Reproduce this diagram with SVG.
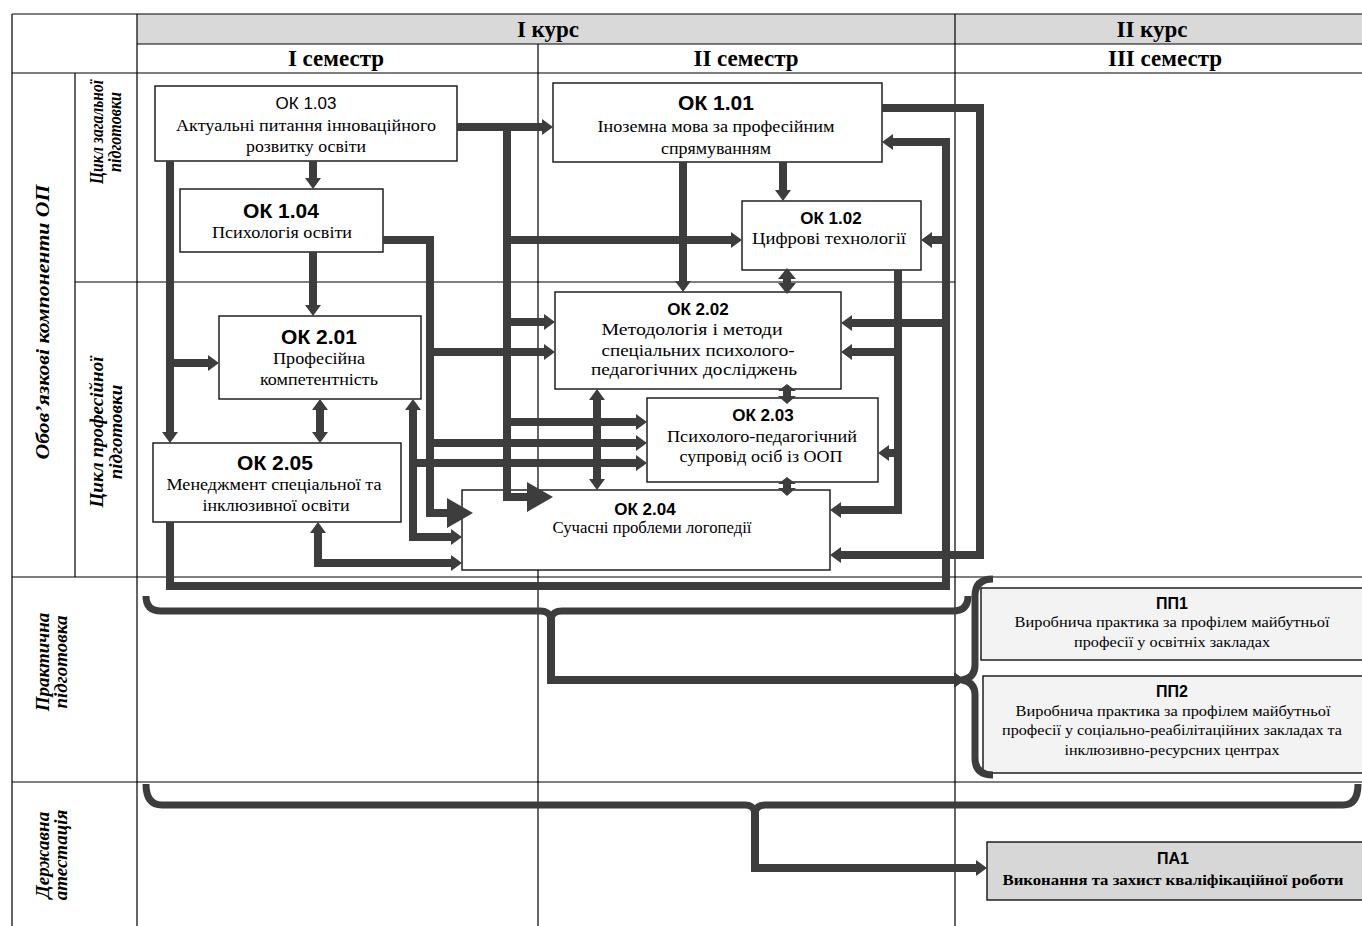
<svg xmlns="http://www.w3.org/2000/svg" width="1362" height="926" viewBox="0 0 1362 926">
<style>
.ln{stroke:#000;stroke-width:1.2;fill:none}
.box{fill:#fff;stroke:#111;stroke-width:1.4}
.pp{fill:#f3f3f3;stroke:#111;stroke-width:1.4}
.pa{fill:#d7d7d7;stroke:#111;stroke-width:1.4}
.c{fill:none;stroke:#3d3d3d;stroke-width:8;stroke-linejoin:miter}
.br{fill:none;stroke:#3d3d3d;stroke-width:7;stroke-linejoin:round}
.tip{fill:#3d3d3d}
.h{font-family:"Liberation Serif","Times New Roman",serif;font-weight:bold;font-size:23px;text-anchor:middle;fill:#000}
.lab{font-family:"Liberation Serif","Times New Roman",serif;font-weight:bold;font-style:italic;font-size:19px;text-anchor:middle;fill:#000}
.k{font-family:"Liberation Sans",Arial,sans-serif;font-size:17px;text-anchor:middle;fill:#000}
.kb{font-family:"Liberation Sans",Arial,sans-serif;font-size:21px;font-weight:bold;text-anchor:middle;fill:#000}
.s{font-family:"Liberation Serif","Times New Roman",serif;font-size:16px;text-anchor:middle;fill:#000}
.ss{font-family:"Liberation Serif","Times New Roman",serif;font-size:14px;text-anchor:middle;fill:#000}
.pt{font-family:"Liberation Sans",Arial,sans-serif;font-size:16px;font-weight:bold;text-anchor:middle;fill:#000}
</style>
<defs>
<marker id="ah" viewBox="0 0 11 16" refX="0" refY="8" markerWidth="11" markerHeight="16" markerUnits="userSpaceOnUse" orient="auto-start-reverse"><path d="M0,0 L11,8 L0,16 z" fill="#3d3d3d"/></marker>
<marker id="AH" viewBox="0 0 26 30" refX="0" refY="15" markerWidth="26" markerHeight="30" markerUnits="userSpaceOnUse" orient="auto"><path d="M0,0 L26,15 L0,30 z" fill="#3d3d3d"/></marker>
</defs>
<rect x="0" y="0" width="1362" height="926" fill="#fff"/>
<g id="grid">
<rect x="137" y="14" width="1225" height="30" fill="#d9d9d9"/>
<path class="ln" d="M12,14 H1362 M137,44 H1362 M12,73 H1362 M75,282 H955 M12,577 H1362 M12,782 H1362"/>
<path class="ln" d="M12,14 V926 M137,14 V926 M75,73 V577 M538,44 V926 M955,14 V926"/>
<text class="h" x="548" y="37">І курс</text>
<text class="h" x="1152" y="37">ІІ курс</text>
<text class="h" x="336" y="66">І семестр</text>
<text class="h" x="746" y="66">ІІ семестр</text>
<text class="h" x="1165" y="66">ІІІ семестр</text>
</g>
<g id="row-labels">
<text class="lab" transform="translate(49,322) rotate(-90)" textLength="275" lengthAdjust="spacingAndGlyphs">Обов’язкові компоненти ОП</text>
<text class="lab" font-size="17" transform="translate(0,132) rotate(-90)"><tspan x="0" y="103" textLength="104" lengthAdjust="spacingAndGlyphs">Цикл загальної</tspan><tspan x="0" y="121" textLength="80" lengthAdjust="spacingAndGlyphs">підготовки</tspan></text>
<text class="lab" transform="translate(0,432) rotate(-90)"><tspan x="0" y="103">Цикл професійної</tspan><tspan x="0" y="122">підготовки</tspan></text>
<text class="lab" transform="translate(0,662) rotate(-90)"><tspan x="0" y="49">Практична</tspan><tspan x="0" y="67">підготовка</tspan></text>
<text class="lab" transform="translate(0,855) rotate(-90)"><tspan x="0" y="49">Державна</tspan><tspan x="0" y="67">атестація</tspan></text>
</g>
<g id="n103">
<rect class="box" x="155" y="86" width="302" height="75"/>
<text class="k" x="306" y="109">ОК 1.03</text>
<text class="s" x="306" y="131" textLength="260" lengthAdjust="spacingAndGlyphs">Актуальні питання інноваційного</text>
<text class="s" x="306" y="152" textLength="120" lengthAdjust="spacingAndGlyphs">розвитку освіти</text>
</g>
<g id="n104">
<rect class="box" x="180" y="189" width="203" height="63"/>
<text class="kb" x="281" y="218">ОК 1.04</text>
<text class="s" x="282" y="238" textLength="140" lengthAdjust="spacingAndGlyphs">Психологія освіти</text>
</g>
<g id="n101">
<rect class="box" x="553" y="83" width="329" height="79"/>
<text class="kb" x="716" y="110">ОК 1.01</text>
<text class="s" x="716" y="132" textLength="237" lengthAdjust="spacingAndGlyphs">Іноземна мова за професійним</text>
<text class="s" x="716" y="154" textLength="110" lengthAdjust="spacingAndGlyphs">спрямуванням</text>
</g>
<g id="n102">
<rect class="box" x="742" y="201" width="179" height="69"/>
<text class="k" x="831" y="224" font-weight="bold">ОК 1.02</text>
<text class="s" x="829" y="244" textLength="154" lengthAdjust="spacingAndGlyphs">Цифрові технології</text>
</g>
<g id="n201">
<rect class="box" x="219" y="316" width="202" height="83"/>
<text class="kb" x="319" y="344">ОК 2.01</text>
<text class="s" x="319" y="364" textLength="92" lengthAdjust="spacingAndGlyphs">Професійна</text>
<text class="s" x="319" y="385" textLength="118" lengthAdjust="spacingAndGlyphs">компетентність</text>
</g>
<g id="n202">
<rect class="box" x="555" y="292" width="286" height="97"/>
<text class="k" x="698" y="315" font-weight="bold">ОК 2.02</text>
<text class="s" x="692" y="335" textLength="181" lengthAdjust="spacingAndGlyphs">Методологія і методи</text>
<text class="s" x="698" y="356" textLength="193" lengthAdjust="spacingAndGlyphs">спеціальних психолого-</text>
<text class="s" x="694" y="375" textLength="206" lengthAdjust="spacingAndGlyphs">педагогічних досліджень</text>
</g>
<g id="n203">
<rect class="box" x="647" y="398" width="231" height="84"/>
<text class="k" x="763" y="421" font-weight="bold">ОК 2.03</text>
<text class="s" x="762" y="442" textLength="190" lengthAdjust="spacingAndGlyphs">Психолого-педагогічний</text>
<text class="s" x="761" y="462" textLength="163" lengthAdjust="spacingAndGlyphs">супровід осіб із ООП</text>
</g>
<g id="n205">
<rect class="box" x="153" y="443" width="248" height="79"/>
<text class="kb" x="275" y="470">ОК 2.05</text>
<text class="s" x="274" y="490" textLength="215" lengthAdjust="spacingAndGlyphs">Менеджмент спеціальної та</text>
<text class="s" x="276" y="511" textLength="147" lengthAdjust="spacingAndGlyphs">інклюзивної освіти</text>
</g>
<g id="n204">
<rect class="box" x="462" y="490" width="368" height="80"/>
<text class="k" x="645" y="515" font-weight="bold">ОК 2.04</text>
<text class="s" x="652" y="533" textLength="199" lengthAdjust="spacingAndGlyphs">Сучасні проблеми логопедії</text>
</g>
<g id="pp1">
<rect class="pp" x="981" y="588" width="384" height="72"/>
<text class="pt" x="1172" y="609">ПП1</text>
<text class="ss" x="1172" y="627" textLength="315" lengthAdjust="spacingAndGlyphs">Виробнича практика за профілем майбутньої</text>
<text class="ss" x="1172" y="647" textLength="196" lengthAdjust="spacingAndGlyphs">професії у освітніх закладах</text>
</g>
<g id="pp2">
<rect class="pp" x="983" y="676" width="382" height="97"/>
<text class="pt" x="1172" y="697">ПП2</text>
<text class="ss" x="1173" y="716" textLength="315" lengthAdjust="spacingAndGlyphs">Виробнича практика за профілем майбутньої</text>
<text class="ss" x="1172" y="735" textLength="340" lengthAdjust="spacingAndGlyphs">професії у соціально-реабілітаційних закладах та</text>
<text class="ss" x="1172" y="755" textLength="215" lengthAdjust="spacingAndGlyphs">інклюзивно-ресурсних центрах</text>
</g>
<g id="pa1">
<rect class="pa" x="987" y="842" width="378" height="58"/>
<text class="pt" x="1173" y="864">ПА1</text>
<text class="ss" x="1173" y="885" font-weight="bold" textLength="341" lengthAdjust="spacingAndGlyphs">Виконання та захист кваліфікаційної роботи</text>
</g>
<g id="connectors">
<path class="c" d="M457,127 H542" marker-end="url(#ah)"/>
<path class="c" d="M313,161 V178" marker-end="url(#ah)"/>
<path class="c" d="M313,252 V305" marker-end="url(#ah)"/>
<path class="c" d="M170,161 V432" marker-end="url(#ah)"/>
<path class="c" d="M170,363 H208" marker-end="url(#ah)"/>
<path class="c" d="M170,522 V586 H946 V138"/>
<path class="c" d="M946,142 H893" marker-end="url(#ah)"/>
<path class="c" d="M946,240 H932" marker-end="url(#ah)"/>
<path class="c" d="M946,323 H852" marker-end="url(#ah)"/>
<path class="c" d="M882,108 H980 V555 H841" marker-end="url(#ah)"/>
<path class="c" d="M898,270 V510 H841" marker-end="url(#ah)"/>
<path class="c" d="M898,352 H852" marker-end="url(#ah)"/>
<path class="c" d="M898,453 H889" marker-end="url(#ah)"/>
<path class="c" d="M683,162 V281" marker-end="url(#ah)"/>
<path class="c" d="M783,162 V190" marker-end="url(#ah)"/>
<polygon class="tip" points="787,268 796,279 791,279 791,283 796,283 787,294 778,283 783,283 783,279 778,279"/>
<path class="c" d="M597,400 V479" marker-start="url(#ah)" marker-end="url(#ah)"/>
<polygon class="tip" points="787,384 796,391 791,391 791,396 796,396 787,404 778,396 783,396 783,391 778,391"/>
<polygon class="tip" points="787,477 796,484 791,484 791,488 796,488 787,496 778,488 783,488 783,484 778,484"/>
<path class="c" d="M507,127 V497 H527" marker-end="url(#AH)"/>
<path class="c" d="M507,240 H731" marker-end="url(#ah)"/>
<path class="c" d="M507,322 H544" marker-end="url(#ah)"/>
<path class="c" d="M507,422 H636" marker-end="url(#ah)"/>
<path class="c" d="M383,240 H430 V513 H447" marker-end="url(#AH)"/>
<path class="c" d="M430,352 H544" marker-end="url(#ah)"/>
<path class="c" d="M430,443 H636" marker-end="url(#ah)"/>
<path class="c" d="M413,410 V537 H451" marker-start="url(#ah)" marker-end="url(#ah)"/>
<path class="c" d="M413,463 H636" marker-end="url(#ah)"/>
<path class="c" d="M318,533 V563 H451" marker-start="url(#ah)" marker-end="url(#ah)"/>
<path class="c" d="M320,410 V432" marker-start="url(#ah)" marker-end="url(#ah)"/>
<path class="br" d="M146,596 Q146,611 161,611 H540 Q549,611 551,618 Q553,611 562,611 H953 Q968,611 968,596"/>
<path class="c" d="M551,614 V680 H954" marker-end="url(#ah)"/>
<path class="br" d="M993,579 Q975,579 975,596 V665 Q975,678 962,680 Q975,682 975,695 V758 Q975,775 993,775"/>
<path class="br" d="M146,784 Q146,805 162,805 H745 Q753,805 755,812 Q757,805 765,805 H1343 Q1358,805 1358,784"/>
<path class="c" d="M755,808 V868 H976" marker-end="url(#ah)"/>
</g>
</svg>
